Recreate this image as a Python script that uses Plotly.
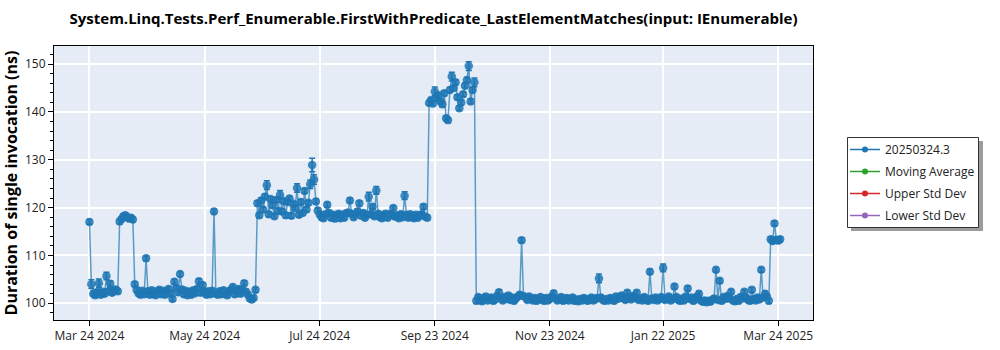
import pandas as pd
import plotly.graph_objects as go

start_date = "2024-03-24"

# Daily durations (ns), segment by segment
seg_a = [117.0, 104.0, 102.0, 101.7, 102.3, 104.2, 101.8, 102.4, 102.0, 105.7,
         102.5, 104.1, 102.2, 102.7, 102.9, 102.5]
seg_b = [117.1, 117.6, 118.2, 118.4, 118.0, 117.7, 117.9, 117.5]
seg_c = [104.0, 102.8, 102.1, 101.8, 102.6, 101.9, 109.4, 102.5, 101.8, 102.7,
         102.0, 101.7, 102.5, 102.8, 101.9, 102.6, 101.8, 102.5, 103.0, 102.0,
         100.9, 104.5, 103.2, 102.3, 106.1, 102.9, 101.9, 102.6, 101.7, 102.4,
         101.8, 102.7, 102.1, 103.0, 104.6, 102.2, 103.8, 102.4, 101.8, 102.5,
         101.9, 102.6, 119.2, 102.0, 101.8, 102.5, 101.9, 102.7, 102.0, 101.7,
         102.5, 102.8, 103.4, 101.9, 102.6, 103.0, 102.0, 102.7, 104.2, 102.4,
         101.8, 101.0, 100.8, 101.1, 102.8]
seg_d = [120.9, 118.4, 121.5, 119.6, 122.3, 124.7, 118.6, 121.8, 120.5, 118.2,
         121.6, 119.3, 122.7, 119.2, 121.4, 118.4, 121.2, 121.9, 118.3, 120.8,
         119.9, 124.1, 118.5, 121.2, 118.9, 123.5, 119.6, 121.0, 124.9, 128.9,
         125.9, 121.3, 119.4]
seg_e = [118.6, 118.0, 117.8, 118.6, 120.6, 118.9, 117.9, 118.5, 117.7, 118.4,
         118.7, 117.8, 118.5, 117.9, 118.8, 119.0, 121.5, 118.7, 118.0, 118.6,
         119.2, 120.9, 118.3, 118.9, 117.9, 118.5, 122.3, 118.6, 120.2, 118.2,
         123.6, 118.7, 118.0, 117.8, 118.5, 118.7, 117.9, 118.6, 118.4, 119.9,
         118.1, 118.4, 117.8, 118.6, 118.0, 122.5, 118.5, 117.9, 118.6, 118.0,
         117.8, 118.5, 117.9, 118.4, 118.6, 120.2, 118.1, 117.9]
seg_f = [141.9, 142.5, 141.8, 144.3, 142.9, 143.5, 142.2, 141.6, 143.9, 138.7,
         138.3, 144.6, 147.4, 145.0, 146.2, 143.1, 140.8, 142.0, 143.7, 145.5,
         146.7, 149.6, 142.2, 144.6, 146.2]
seg_g = [100.5, 101.3, 100.8, 100.4, 101.1, 101.4, 100.6, 100.9, 101.2, 100.5,
         100.8, 101.5, 102.3, 101.0, 100.6, 101.3, 100.9, 101.6, 100.7, 101.2,
         100.5, 101.0, 101.4, 101.8, 113.2, 101.5, 101.3, 100.7, 101.4, 100.9,
         100.6, 101.1, 100.5, 100.9, 101.3, 100.7, 100.5, 101.1, 100.6, 100.9,
         101.4, 102.1, 101.0, 100.6, 100.9, 101.3, 100.5, 100.8, 101.1, 100.6,
         100.9, 101.2, 100.5, 100.8, 100.4, 100.9, 100.6, 101.1, 100.8, 100.5,
         100.9, 101.2, 100.6, 100.8, 101.1, 105.2, 101.2, 100.7, 100.5, 100.9,
         100.6, 101.1, 100.8, 100.5, 101.4, 100.9, 101.3, 101.6, 101.0, 100.7,
         102.2, 101.3, 100.8, 101.5, 101.1, 102.2, 100.7, 101.0, 100.6, 101.3,
         100.9, 100.5, 106.6, 101.0, 100.7, 101.2, 100.6, 100.9, 101.3, 107.4,
         100.7, 101.0, 101.4, 100.6, 100.9, 103.5, 101.3, 100.7, 100.5, 101.0,
         100.6, 101.4, 103.1, 100.9, 101.2, 100.5, 100.8, 101.4, 102.0, 100.6,
         100.3, 100.6, 100.2, 100.5, 100.3, 100.7, 101.0, 107.0, 100.7, 104.7,
         100.5, 101.3, 100.9, 101.5, 101.0, 102.4, 100.6, 100.4, 100.9, 100.5,
         101.3, 101.0, 102.4, 101.2, 100.7, 100.5, 102.8, 100.9, 100.6, 101.2,
         100.8, 107.0, 101.2, 102.0, 101.4, 100.5]
seg_h = [113.4, 113.0, 116.7, 113.3, 113.1, 113.4]

values = seg_a + seg_b + seg_c + seg_d + seg_e + seg_f + seg_g + seg_h
dates = pd.date_range(start_date, periods=len(values), freq="D")

err_default = 0.5
err_index = [1, 5, 9, 11, 94, 101, 110, 117, 118, 119, 148, 152, 167, 183, 192, 201, 204, 270, 304]
err_size = [0.9, 0.9, 0.8, 0.6, 0.9, 0.9, 0.9, 0.9, 1.4, 1.0, 0.9, 0.8, 0.8, 0.9, 0.9, 0.9, 0.9, 0.9, 0.8]
errors = [err_default] * len(values)
for i, e in zip(err_index, err_size):
    errors[i] = e

tick_vals = ["2024-03-24", "2024-05-24", "2024-07-24", "2024-09-23",
             "2024-11-23", "2025-01-22", "2025-03-24"]
tick_text = ["Mar 24 2024", "May 24 2024", "Jul 24 2024", "Sep 23 2024",
             "Nov 23 2024", "Jan 22 2025", "Mar 24 2025"]

legend_names = ["20250324.3", "Moving Average", "Upper Std Dev", "Lower Std Dev"]
legend_colors = ["#1f77b4", "#2ca02c", "#d62728", "#9467bd"]

blue = "#1f77b4"
FONT = "Open Sans, Noto Sans, sans-serif"

fig = go.Figure()
fig.add_trace(go.Scatter(
    x=dates, y=values, mode="lines+markers", name=legend_names[0], showlegend=False,
    legendgroup="g0",
    line=dict(color="rgba(31,119,180,0.7)", width=1.5),
    marker=dict(color=blue, size=8.5, opacity=0.85),
    error_y=dict(type="data", array=errors, visible=True, color=blue, thickness=1.5, width=3),
))
for k, (nm, col) in enumerate(zip(legend_names, legend_colors)):
    fig.add_trace(go.Scatter(x=[None], y=[None], mode="lines+markers", name=nm,
                             legendgroup="g%d" % k,
                             line=dict(color=col, width=1.5), marker=dict(color=col, size=6)))

L, R, T, B = 54, 187, 46, 30
W, H = 1000, 350
pw, ph = W - L - R, H - T - B

def px_x(p):
    return (p - L) / pw

def px_y(p):
    return (H - B - p) / ph

# legend shadow and frame
fig.add_shape(type="rect", xref="paper", yref="paper",
              x0=px_x(851), x1=px_x(983), y0=px_y(231), y1=px_y(141),
              fillcolor="rgba(90,90,90,0.6)", line=dict(width=0), layer="above")
fig.add_shape(type="rect", xref="paper", yref="paper",
              x0=px_x(847.5), x1=px_x(978.5), y0=px_y(227.5), y1=px_y(137.5),
              fillcolor="white", line=dict(color="#333", width=1), layer="above")

fig.update_layout(
    width=W, height=H,
    margin=dict(l=L, r=R, t=T, b=B),
    paper_bgcolor="white", plot_bgcolor="#E5ECF6",
    font=dict(family=FONT, size=12, color="#222"),
    title=dict(text="<b>System.Linq.Tests.Perf_Enumerable.FirstWithPredicate_LastElementMatches(input: IEnumerable)</b>",
               x=0.5, xref="paper", y=1 - 19 / H, yref="container", yanchor="middle", xanchor="center",
               font=dict(family=FONT, size=15, color="black")),
    showlegend=True,
    legend=dict(x=px_x(845), y=px_y(135), xanchor="left", yanchor="top",
                bgcolor="rgba(0,0,0,0)", borderwidth=0, tracegroupgap=3,
                font=dict(family=FONT, size=12, color="#222")),
    xaxis=dict(range=["2024-03-05 05:00", "2025-04-11 10:00"], tickvals=tick_vals, ticktext=tick_text,
               automargin=False,
               showgrid=True, gridcolor="white", gridwidth=1.5, zeroline=False,
               showline=True, linecolor="black", linewidth=1, mirror=True,
               ticks="outside", ticklen=5, tickcolor="black"),
    yaxis=dict(range=[96.5, 153.8], dtick=10, tick0=100, automargin=False,
               showgrid=True, gridcolor="white", gridwidth=1.5, zeroline=False,
               showline=True, linecolor="black", linewidth=1, mirror=True,
               ticks="outside", ticklen=5, tickcolor="black",
               minor=dict(dtick=2, ticks="outside", ticklen=3, tickcolor="black", showgrid=False),
               title=dict(text="<b>Duration of single invocation (ns)</b>",
                          font=dict(family=FONT, size=16, color="black"), standoff=8)),
)

fig.write_html("out.html")
